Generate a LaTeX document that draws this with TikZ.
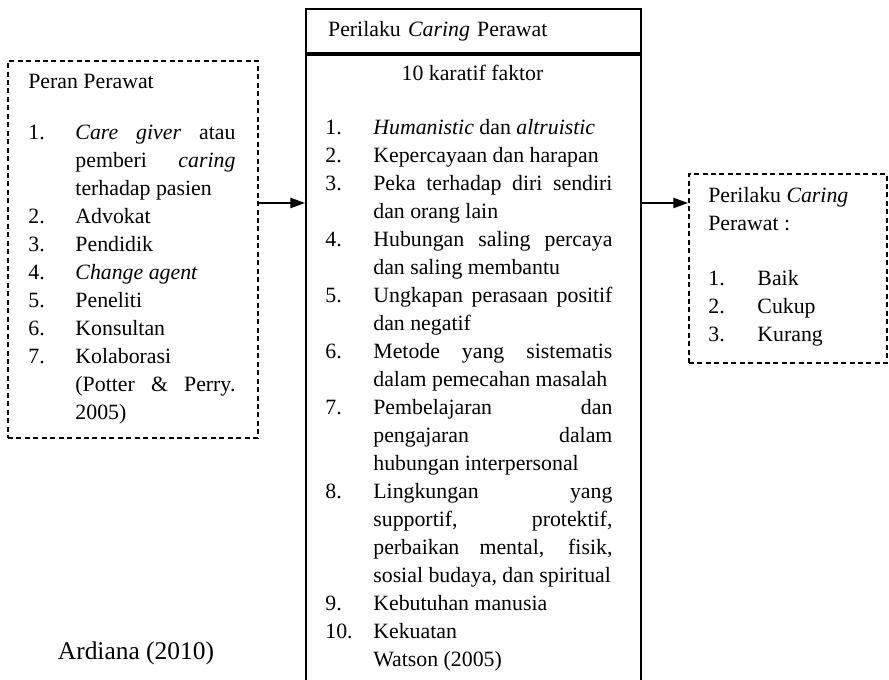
\documentclass[tikz,border=0pt]{standalone}
\usepackage{fontspec}
\setmainfont{Liberation Serif}
\usetikzlibrary{arrows.meta, positioning}

\newcommand{\numitem}[3][26.4pt]{\noindent\hangindent=#1\hangafter=1\makebox[#1][l]{#2}#3\par}
\newcommand{\softbreak}{\hfil\break}

\begin{document}
\begin{tikzpicture}[
  x=0.55pt, y=-0.55pt,
  font=\fontsize{12}{15.4}\selectfont,
  dashbox/.style={draw, dash pattern=on 2.75pt off 1.9pt, line width=1pt,
                  anchor=north west, inner sep=0pt},
  solidbox/.style={draw, line width=1.2pt, anchor=north west, inner sep=0pt},
  listtext/.style={anchor=base west, align=justify, inner sep=0pt},
  arr/.style={-{Triangle[length=8pt, width=5.5pt]}, line width=1.1pt},
]
\useasboundingbox (0,0) rectangle (889,680);

% Peran perawat
\node[dashbox, minimum width=137.5pt, minimum height=207.4pt] (PRbox) at (7,60) {};
\node[listtext, text width=113.9pt] (PRlist) at (28,89)
  {Peran Perawat\par\vspace{12.5pt}%
   \numitem[25.9pt]{1.}{\textit{Care giver} atau\linebreak pemberi \textit{caring}\linebreak terhadap pasien}%
   \numitem[25.9pt]{2.}{Advokat}%
   \numitem[25.9pt]{3.}{Pendidik}%
   \numitem[25.9pt]{4.}{\textit{Change agent}}%
   \numitem[25.9pt]{5.}{Peneliti}%
   \numitem[25.9pt]{6.}{Konsultan}%
   \numitem[25.9pt]{7.}{Kolaborasi\softbreak (Potter \& Perry.\linebreak 2005)}};

% Perilaku caring perawat
\node[solidbox, minimum width=184.25pt, minimum height=400pt] (CRbox) at (305,8) {};
\node[solidbox, minimum width=184.25pt, minimum height=24.2pt, text width=160pt,
      inner xsep=12.1pt, align=left] (CRhdr) at (305,8)
  {Perilaku \textit{Caring} Perawat};
\draw[line width=2.2pt] (CRhdr.south west) -- (CRhdr.south east);
\node[anchor=base] (CRlbl) at (472.5,81) {10 karatif faktor};
\node[listtext, text width=157.9pt] (CRlist) at (325,135)
  {\numitem{1.}{\textit{Humanistic} dan \textit{altruistic}}%
   \numitem{2.}{Kepercayaan dan harapan}%
   \numitem{3.}{Peka terhadap diri sendiri\linebreak dan orang lain}%
   \numitem{4.}{Hubungan saling percaya\linebreak dan saling membantu}%
   \numitem{5.}{Ungkapan perasaan positif\linebreak dan negatif}%
   \numitem{6.}{Metode yang sistematis\linebreak dalam pemecahan masalah}%
   \numitem{7.}{Pembelajaran dan\linebreak pengajaran dalam\linebreak hubungan interpersonal}%
   \numitem{8.}{Lingkungan yang\linebreak supportif, protektif,\linebreak perbaikan mental, fisik,\linebreak sosial budaya, dan spiritual}%
   \numitem{9.}{Kebutuhan manusia}%
   \numitem{10.}{Kekuatan\softbreak Watson (2005)}};

% Hasil
\node[dashbox, minimum width=108.9pt, minimum height=104pt] (HSbox) at (688,173) {};
\node[listtext, text width=88pt] (HSlist) at (708,203)
  {Perilaku \textit{Caring}\softbreak Perawat :\par\vspace{14.5pt}%
   \numitem[27pt]{1.}{Baik}%
   \numitem[27pt]{2.}{Cukup}%
   \numitem[27pt]{3.}{Kurang}};

% Sumber
\node[font=\fontsize{14}{16}\selectfont] (SRC) at (136,653) {Ardiana (2010)};

% Arrows
\coordinate (arrY) at (0,203);
\draw[arr] (PRbox.east |- arrY) -- (CRbox.west |- arrY);
\draw[arr] (CRbox.east |- arrY) -- (HSbox.west |- arrY);

\end{tikzpicture}
\end{document}
